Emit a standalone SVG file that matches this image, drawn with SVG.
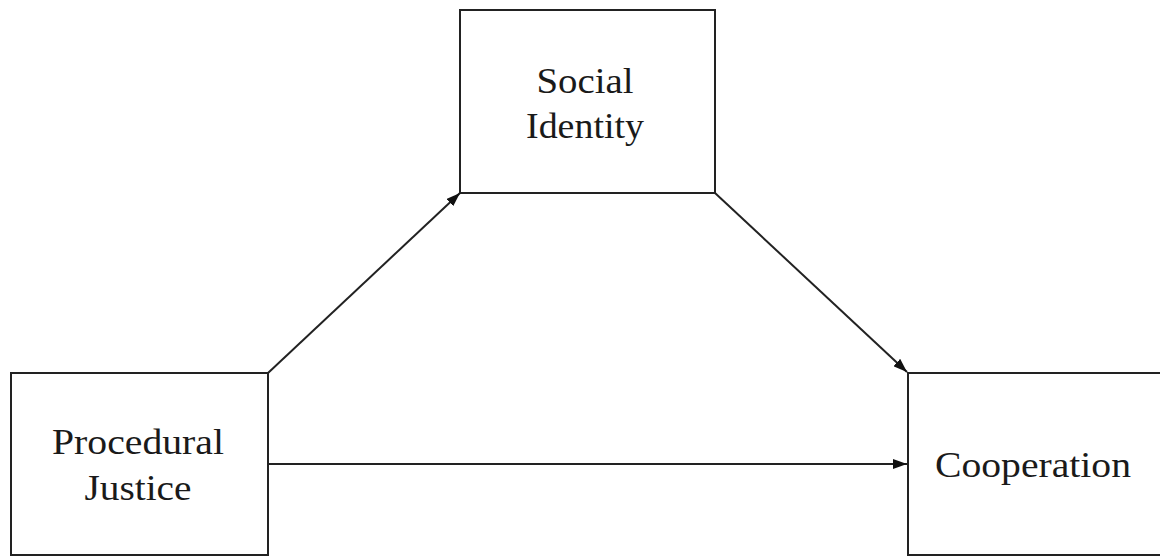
<svg xmlns="http://www.w3.org/2000/svg" width="1160" height="557" viewBox="0 0 1160 557">
<style>
.box{fill:#fff;stroke:#222;stroke-width:2}
.lbl{font-family:"Liberation Serif","Times New Roman",serif;font-size:36px;fill:#1a1a1a;text-anchor:middle}
.edge{stroke:#222;stroke-width:2;fill:none;marker-end:url(#ah)}
</style>
<defs>
<marker id="ah" viewBox="0 0 14 10" refX="14" refY="5" markerWidth="14" markerHeight="10" markerUnits="userSpaceOnUse" orient="auto">
<path d="M0,0 L14,5 L0,10 Z" fill="#111"/>
</marker>
</defs>
<rect width="1160" height="557" fill="#fff"/>
<g id="social-identity">
<rect class="box" x="460" y="10" width="255" height="183"/>
<text class="lbl" x="585" y="93" textLength="97" lengthAdjust="spacingAndGlyphs">Social</text>
<text class="lbl" x="585" y="138" textLength="118" lengthAdjust="spacingAndGlyphs">Identity</text>
</g>
<g id="procedural-justice">
<rect class="box" x="11" y="373" width="257" height="182"/>
<text class="lbl" x="138" y="454" textLength="172" lengthAdjust="spacingAndGlyphs">Procedural</text>
<text class="lbl" x="138" y="500" textLength="107" lengthAdjust="spacingAndGlyphs">Justice</text>
</g>
<g id="cooperation">
<rect class="box" x="908" y="373" width="262" height="182"/>
<text class="lbl" x="1033" y="477" textLength="196" lengthAdjust="spacingAndGlyphs">Cooperation</text>
</g>
<g id="connectors">
<line class="edge" x1="268" y1="373" x2="460" y2="193"/>
<line class="edge" x1="715" y1="193" x2="907" y2="372"/>
<line class="edge" x1="268" y1="464" x2="907" y2="464"/>
</g>
</svg>
